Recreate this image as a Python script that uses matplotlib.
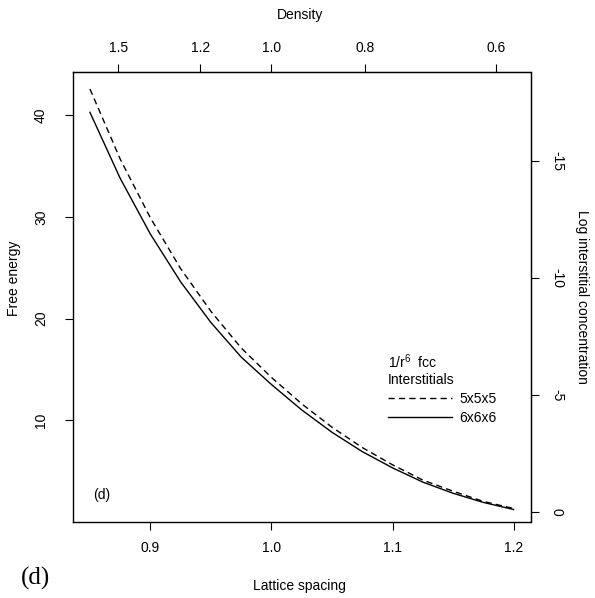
import numpy as np
import matplotlib.pyplot as plt
from matplotlib.ticker import NullLocator

plt.rcParams['font.family'] = ['Liberation Sans', 'DejaVu Sans']
plt.rcParams['font.size'] = 10
plt.rcParams['mathtext.fontset'] = 'custom'
plt.rcParams['mathtext.rm'] = 'Liberation Sans'
plt.rcParams['mathtext.it'] = 'Liberation Sans:italic'

# values
spacing = [0.85, 0.875, 0.9, 0.925, 0.95, 0.975, 1.0, 1.025, 1.05,
           1.075, 1.1, 1.125, 1.15, 1.175, 1.2]
free_5x5x5 = [42.6, 35.7, 29.9, 24.9, 20.7, 17.1, 14.2, 11.6, 9.3,
              7.3, 5.6, 4.1, 3.0, 2.0, 1.3]
free_6x6x6 = [40.3, 33.8, 28.3, 23.6, 19.6, 16.2, 13.5, 11.0, 8.8,
              6.9, 5.3, 3.9, 2.8, 1.9, 1.2]

x_ticks = [0.9, 1.0, 1.1, 1.2]
y_ticks = [10, 20, 30, 40]
density_ticks = [1.5, 1.2, 1.0, 0.8, 0.6]
logc_ticks = [0, -5, -10, -15]

ln10 = np.log(10)
offset = 0.95


def fe_to_logc(f):
    return (offset - np.asarray(f)) / ln10


def logc_to_fe(c):
    return offset - np.asarray(c) * ln10


def r_to_rho(r):
    r = np.asarray(r, dtype=float)
    with np.errstate(divide='ignore', invalid='ignore'):
        return 1.0 / r**3


def rho_to_r(d):
    d = np.asarray(d, dtype=float)
    with np.errstate(divide='ignore', invalid='ignore'):
        return np.sign(d) * np.abs(d) ** (-1.0 / 3.0)


fig = plt.figure(figsize=(5.95, 5.98), dpi=100)
ax = fig.add_axes([73 / 595, 1 - 521.7 / 598, 457.5 / 595, 450 / 598])

l5, = ax.plot(spacing, free_5x5x5, color='black', lw=1.0, label='5x5x5')
l5.set_dashes([4.5, 3])
l6, = ax.plot(spacing, free_6x6x6, color='black', lw=1.0, label='6x6x6')

ax.set_xlim(0.836, 1.214)
ax.set_ylim(0, 44.3)
ax.set_xticks(x_ticks)
ax.set_xticklabels(['0.9', '1.0', '1.1', '1.2'])
ax.set_yticks(y_ticks)
ax.tick_params(direction='out', length=6, width=0.8, top=False, right=False)
ax.tick_params(axis='x', pad=8)
ax.tick_params(axis='y', labelrotation=90, pad=12)
for lab in ax.get_yticklabels():
    lab.set_va('center')

ax.set_xlabel('Lattice spacing')
ax.xaxis.set_label_coords(0.496, -0.128)
ax.set_ylabel('Free energy')
ax.yaxis.set_label_coords(-0.114, 0.54)

secx = ax.secondary_xaxis('top', functions=(r_to_rho, rho_to_r))
secx.set_xticks(density_ticks)
secx.set_xticklabels(['1.5', '1.2', '1.0', '0.8', '0.6'])
secx.xaxis.set_minor_locator(NullLocator())
secx.tick_params(direction='out', length=6, width=0.8, pad=6)

secy = ax.secondary_yaxis('right', functions=(fe_to_logc, logc_to_fe))
secy.set_yticks(logc_ticks)
secy.set_yticklabels(['0', '-5', '-10', '-15'])
secy.yaxis.set_minor_locator(NullLocator())
secy.tick_params(direction='out', length=6, width=0.8, pad=8, labelrotation=-90)
for lab in secy.get_yticklabels():
    lab.set_va('center')

fig.text(300 / 595, 1 - 15 / 598, 'Density', ha='center', va='center')
fig.text(582 / 595, 1 - 297 / 598, 'Log interstitial concentration',
         rotation=-90, ha='center', va='center')

for sp in ax.spines.values():
    sp.set_linewidth(1.0)

ax.legend(handles=[l5, l6], title='1/r$^6$  fcc\nInterstitials',
          alignment='left', frameon=False, loc='upper left',
          bbox_to_anchor=(0.689, 0.377), borderpad=0, borderaxespad=0,
          handlelength=4.6, handletextpad=0.5, labelspacing=0.35,
          fontsize=10, title_fontsize=10)

ax.text(0.063, 0.06, '(d)', transform=ax.transAxes, ha='center', va='center')
fig.text(36 / 595, 1 - 578 / 598, '(d)', family=['Liberation Serif', 'DejaVu Serif'],
         fontsize=18, ha='center', va='center')

fig.savefig('out.png', dpi=100)
